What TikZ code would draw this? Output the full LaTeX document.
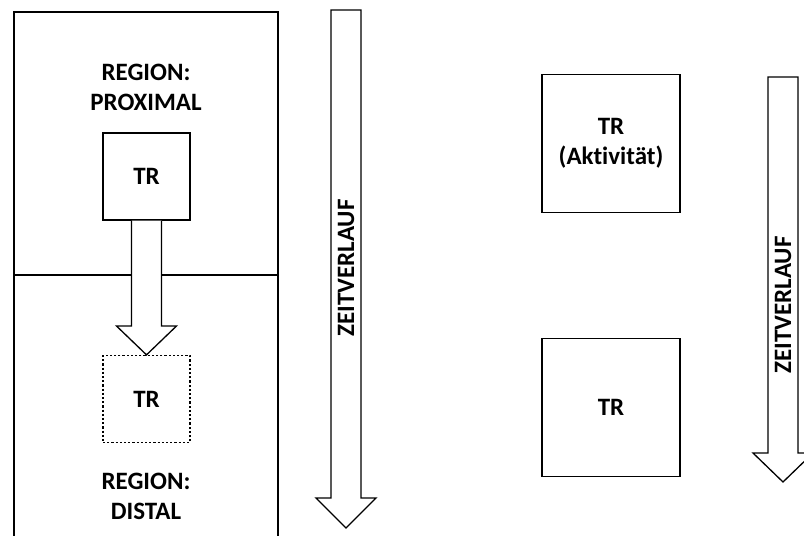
\documentclass[tikz,border=0pt]{standalone}
\usepackage{fontspec}
\setmainfont{Carlito}[Ligatures=NoCommon]
\begin{document}
\begin{tikzpicture}[x=1pt,y=-1pt,
  lbl/.style={font=\bfseries\fontsize{25}{30}\selectfont, align=center, inner sep=0pt},
  box/.style={draw, line width=1.3pt, minimum width=#1, minimum height=#1, inner sep=0pt, font=\bfseries\fontsize{25}{30}\selectfont, align=center},
  blk/.style={draw, line width=1.3pt, fill=white, line join=miter}]
\useasboundingbox (0,0) rectangle (804,536);
\clip (0,0) rectangle (804,536);
% left region box
\draw[line width=1.3pt] (14,545) -- (14,12) -- (278,12) -- (278,545);
\draw[line width=2.2pt] (14,275) -- (278,275);
\node[lbl] (prox) at (146,87) {REGION:\\PROXIMAL};
\node[lbl] (dist) at (146,496) {REGION:\\DISTAL};
\node[box=87pt] (tr1) at (146.5,176.5) {TR};
\node[box=87pt, dash pattern=on 2.2pt off 2pt, line width=1.3pt] (tr2) at (146.5,399) {TR};
% block arrow between TR boxes
\draw[blk] ([xshift=-15pt]tr1.south) -- ([xshift=-15pt]tr1.south |- 0,326) -- ([xshift=-30pt]tr2.north |- 0,326)
  -- (tr2.north) -- ([xshift=30pt]tr2.north |- 0,326) -- ([xshift=15pt]tr1.south |- 0,326) -- ([xshift=15pt]tr1.south);
% left time arrow
\coordinate (t1top) at (346,10);
\coordinate (t1tip) at (346,528);
\draw[blk] ([xshift=-15pt]t1top) -- ([xshift=-15pt]t1top |- 0,498) -- ([xshift=-30pt]t1tip |- 0,498) -- (t1tip)
  -- ([xshift=30pt]t1tip |- 0,498) -- ([xshift=15pt]t1top |- 0,498) -- ([xshift=15pt]t1top) -- cycle;
\node[lbl, rotate=90] (z1) at (346,268) {ZEITVERLAUF};
% right side
\node[box=138pt] (tr3) at (611,143.5) {TR\\(Aktivität)};
\node[box=138pt] (tr4) at (611,407.5) {TR};
\coordinate (t2top) at (783,77);
\coordinate (t2tip) at (783,482);
\draw[blk] ([xshift=-15pt]t2top) -- ([xshift=-15pt]t2top |- 0,453) -- ([xshift=-30pt]t2tip |- 0,453) -- (t2tip)
  -- ([xshift=30pt]t2tip |- 0,453) -- ([xshift=15pt]t2top |- 0,453) -- ([xshift=15pt]t2top) -- cycle;
\node[lbl, rotate=90] (z2) at (783,305) {ZEITVERLAUF};
\end{tikzpicture}
\end{document}
